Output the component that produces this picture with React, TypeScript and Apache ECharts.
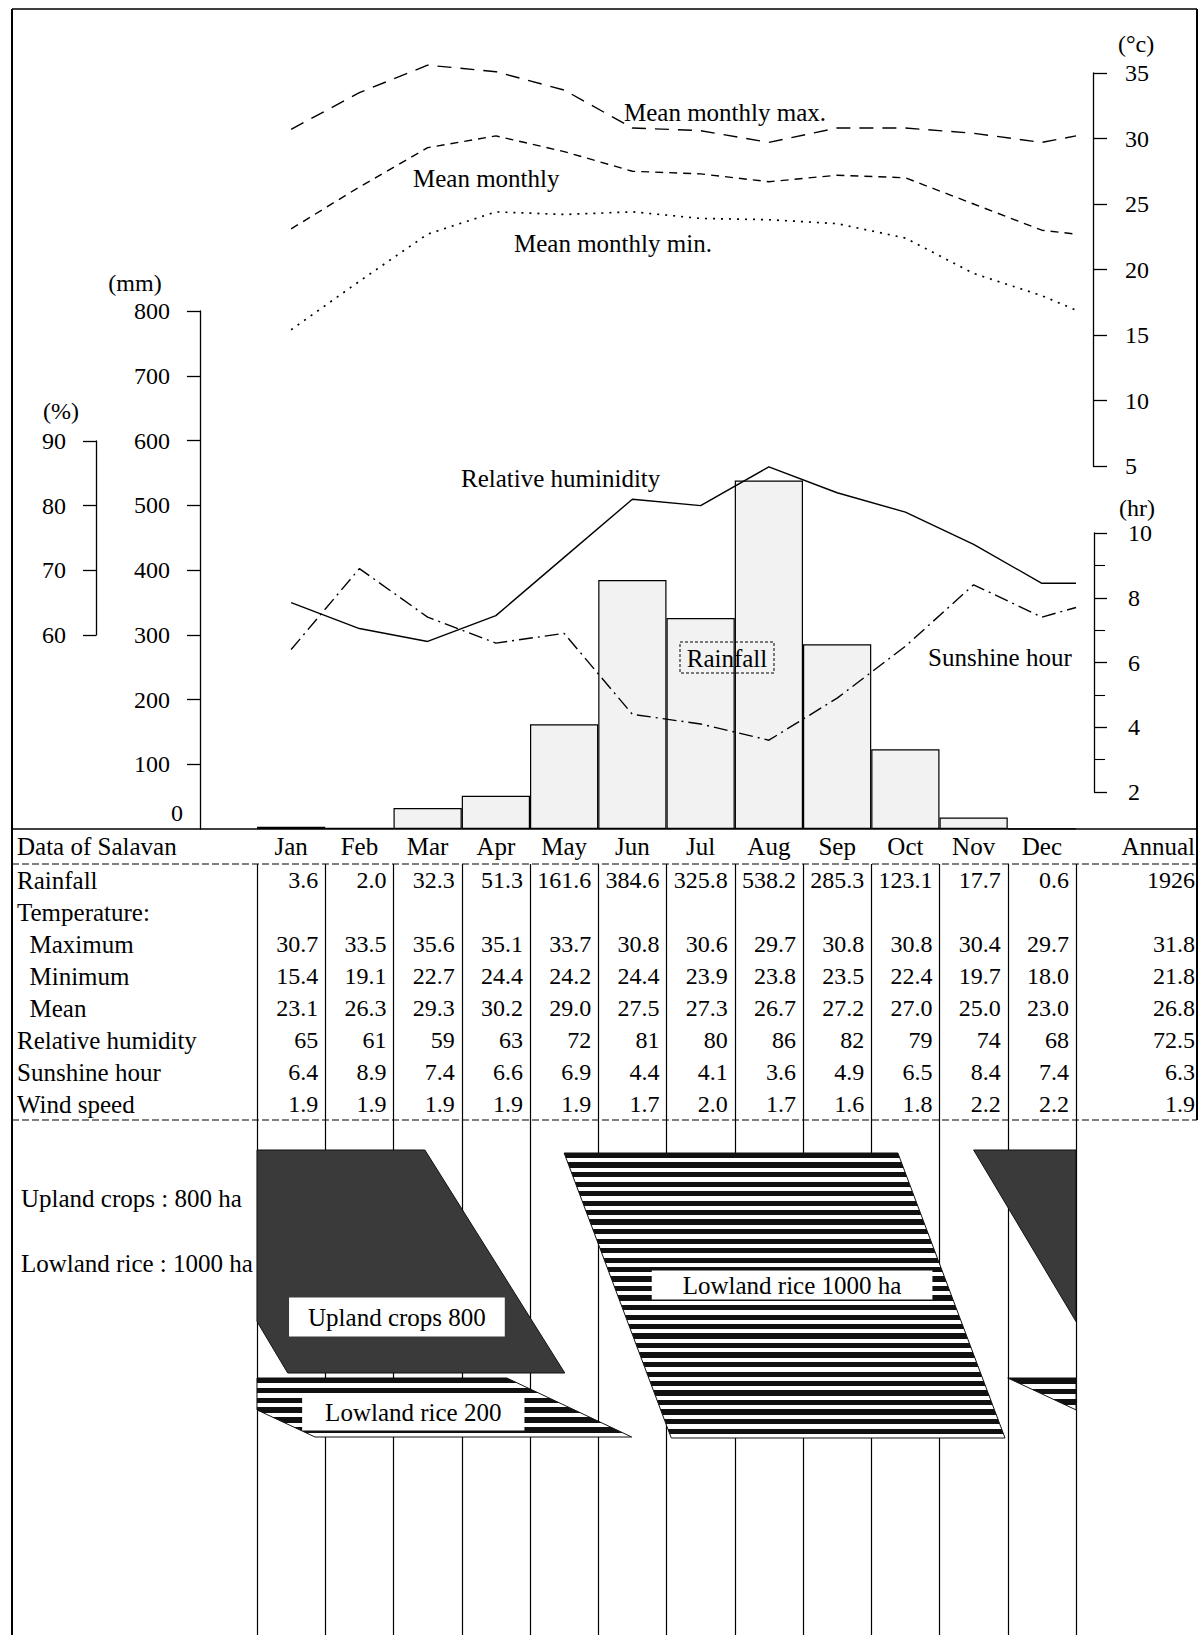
import React, { useEffect, useRef } from 'react';
import * as echarts from 'echarts';

// ---------------- DATA ----------------
const months = ['Jan', 'Feb', 'Mar', 'Apr', 'May', 'Jun', 'Jul', 'Aug', 'Sep', 'Oct', 'Nov', 'Dec'];
const rainfall = [3.6, 2.0, 32.3, 51.3, 161.6, 384.6, 325.8, 538.2, 285.3, 123.1, 17.7, 0.6];
const tempMax = [30.7, 33.5, 35.6, 35.1, 33.7, 30.8, 30.6, 29.7, 30.8, 30.8, 30.4, 29.7];
const tempMin = [15.4, 19.1, 22.7, 24.4, 24.2, 24.4, 23.9, 23.8, 23.5, 22.4, 19.7, 18.0];
const tempMean = [23.1, 26.3, 29.3, 30.2, 29.0, 27.5, 27.3, 26.7, 27.2, 27.0, 25.0, 23.0];
const humidity = [65, 61, 59, 63, 72, 81, 80, 86, 82, 79, 74, 68];
const sunshine = [6.4, 8.9, 7.4, 6.6, 6.9, 4.4, 4.1, 3.6, 4.9, 6.5, 8.4, 7.4];
const windSpeed = [1.9, 1.9, 1.9, 1.9, 1.9, 1.7, 2.0, 1.7, 1.6, 1.8, 2.2, 2.2];
const edgeMax = 30.2;
const edgeMean = 22.7;
const edgeMin = 16.9;
const edgeHumidity = 68;
const edgeSunshine = 7.7;

const tableRowLabels = ['Rainfall', 'Temperature:', 'Maximum', 'Minimum', 'Mean', 'Relative humidity', 'Sunshine hour', 'Wind speed'];
const indentedRows = ['Maximum', 'Minimum', 'Mean'];
const tableDecimals = [1, 0, 1, 1, 1, 0, 1, 1];
const annualValues = [1926, null, 31.8, 21.8, 26.8, 72.5, 6.3, 1.9];

// crop calendar (months from 1 Jan; negative = previous year)
const cropNames = ['Upland crops 800', 'Lowland rice 200', 'Lowland rice 1000 ha'];
const cropTopStart = [-1.5, -1.0, 4.5];
const cropTopEnd = [2.46, 3.66, 9.39];
const cropBottomStart = [0.45, 0.85, 6.07];
const cropBottomEnd = [4.51, 5.49, 10.96];
const cropLegend = ['Upland crops : 800 ha', 'Lowland rice : 1000 ha'];

// ---------------- LAYOUT ----------------
const FONT = "'Liberation Serif', 'Times New Roman', serif";
const FS = 24;
const FT = 25;
const PL = 257; // plot left
const PW = 819; // plot width (12 months)
const LINE_TOP = 40;
const AXIS_BOTTOM = 829;
const MM_TOP = 311;
const RH_PX = { low: 635, high: 441, vLow: 60, vHigh: 90 };
const T_PX = { low: 466, high: 73, vLow: 5, vHigh: 35 };
const HR_PX = { low: 792, high: 533, vLow: 2, vHigh: 10 };
const TABLE_TOP = 864;
const TABLE_BOTTOM = 1120;
const CROP_BOTTOM = 1635;
const cropYTop = [30, 258, 33];
const cropYBottom = [253, 317, 318];
const cropKind = ['upland', 'lowland', 'lowland'];
const cropLabelX = [2.05, 2.29, 7.84];
const cropLabelY = [197, 292, 165];
const cropLabelPad = [[7, 19], [6, 23], [2, 31]];

function hiddenRange(a: any) {
  const s = (a.vHigh - a.vLow) / (a.low - a.high);
  return { min: a.vLow - (AXIS_BOTTOM - a.low) * s, max: a.vHigh + (a.high - LINE_TOP) * s };
}

function clipPolyX(pts: number[][], xmin: number, xmax: number) {
  const clipEdge = (poly: number[][], inside: (p: number[]) => boolean, x: number) => {
    const out: number[][] = [];
    for (let i = 0; i < poly.length; i++) {
      const cur = poly[i];
      const prev = poly[(i + poly.length - 1) % poly.length];
      const inter = () => {
        const t = (x - prev[0]) / (cur[0] - prev[0]);
        return [x, prev[1] + t * (cur[1] - prev[1])];
      };
      const ci = inside(cur), pi = inside(prev);
      if (ci) {
        if (!pi) out.push(inter());
        out.push(cur);
      } else if (pi) out.push(inter());
    }
    return out;
  };
  let r = clipEdge(pts, (p) => p[0] >= xmin, xmin);
  if (r.length) r = clipEdge(r, (p) => p[0] <= xmax, xmax);
  return r;
}

function stripeFill(h: number) {
  const n = Math.max(1, Math.round(h / 9.5));
  const stops: any[] = [];
  for (let k = 0; k < n; k++) {
    const a = k / n, b = (k + 0.55) / n, c = (k + 1) / n;
    stops.push({ offset: a, color: '#111' }, { offset: b, color: '#111' }, { offset: b, color: '#fff' }, { offset: c, color: '#fff' });
  }
  return new echarts.graphic.LinearGradient(0, 0, 0, 1, stops);
}

const lineData = (v: number[], edge: number) => v.map((y, i) => [i + 0.5, y]).concat([[12, edge]]);

function txt(text: string, x: number, y: number, align = 'left', size = FT) {
  return {
    type: 'text', x, y, z: 100,
    style: { text, font: `${size}px ${FONT}`, fill: '#000', textAlign: align, textVerticalAlign: 'middle', align, verticalAlign: 'middle' },
  };
}
function ln(x1: number, y1: number, x2: number, y2: number, w = 1.2, dash?: number[]) {
  return { type: 'line', z: 90, shape: { x1, y1, x2, y2 }, style: { stroke: '#000', lineWidth: w, lineDash: dash } };
}

export default function App() {
  const ref = useRef<HTMLDivElement>(null);
  useEffect(() => {
    document.body.style.margin = '0';
    const chart = echarts.init(ref.current!, undefined, { renderer: 'svg' });

    const cells: any[] = [];
    const rows = [rainfall, null, tempMax, tempMin, tempMean, humidity, sunshine, windSpeed];
    rows.forEach((r, ri) => {
      if (r) r.forEach((v, ci) => cells.push({ col: ci, row: ri, text: v.toFixed(tableDecimals[ri]) }));
      const a = annualValues[ri];
      if (a !== null) cells.push({ col: 12, row: ri, text: String(a), annual: true });
    });

    const tr = hiddenRange(T_PX), rr = hiddenRange(RH_PX), hr = hiddenRange(HR_PX);
    const axisStyle = { lineStyle: { color: '#000', width: 1.3 } };
    const labelStyle = { color: '#000', fontSize: FS, fontFamily: FONT };
    const visLine = { show: true, onZero: false, ...axisStyle };

    const option: any = {
      animation: false,
      backgroundColor: '#fff',
      grid: [
        { left: PL, width: PW, top: MM_TOP, height: AXIS_BOTTOM - MM_TOP },
        { left: PL, width: PW, top: LINE_TOP, height: AXIS_BOTTOM - LINE_TOP },
        { left: PL, width: PW, top: RH_PX.high, height: RH_PX.low - RH_PX.high },
        { left: PL, width: PW, top: T_PX.high, height: T_PX.low - T_PX.high },
        { left: PL, width: PW, top: HR_PX.high, height: HR_PX.low - HR_PX.high },
        { left: PL, width: PW, top: TABLE_TOP, height: TABLE_BOTTOM - TABLE_TOP },
        { left: PL, width: PW, top: TABLE_BOTTOM, height: CROP_BOTTOM - TABLE_BOTTOM },
      ],
      xAxis: [
        {
          type: 'category', gridIndex: 0, data: months, boundaryGap: true,
          axisLine: { show: false }, axisTick: { show: false },
          axisLabel: { ...labelStyle, fontSize: FT, margin: 5, interval: 0 },
        },
        { type: 'value', gridIndex: 1, min: 0, max: 12, show: false },
        { type: 'value', gridIndex: 2, min: 0, max: 1, show: false },
        { type: 'value', gridIndex: 3, min: 0, max: 1, show: false },
        { type: 'value', gridIndex: 4, min: 0, max: 1, show: false },
        {
          type: 'value', gridIndex: 5, min: 0, max: 12, interval: 1,
          axisLine: { show: false }, axisTick: { show: false }, axisLabel: { show: false },
          splitLine: { show: true, lineStyle: { color: '#000', width: 1.2 } },
        },
        {
          type: 'value', gridIndex: 6, min: 0, max: 12, interval: 1,
          axisLine: { show: false }, axisTick: { show: false }, axisLabel: { show: false },
          splitLine: { show: true, lineStyle: { color: '#000', width: 1.2 } },
        },
      ],
      yAxis: [
        {
          type: 'value', gridIndex: 0, min: 0, max: 800, interval: 100, position: 'left', offset: PL - 200,
          axisLine: visLine, axisTick: { show: true, length: 13, ...axisStyle },
          axisLabel: { ...labelStyle, margin: 30, showMinLabel: false }, splitLine: { show: false },
        },
        { type: 'value', gridIndex: 1, min: tr.min, max: tr.max, show: false, splitLine: { show: false } },
        { type: 'value', gridIndex: 1, min: rr.min, max: rr.max, show: false, splitLine: { show: false } },
        { type: 'value', gridIndex: 1, min: hr.min, max: hr.max, show: false, splitLine: { show: false } },
        {
          type: 'value', gridIndex: 2, min: 60, max: 90, interval: 10, position: 'left', offset: PL - 96,
          axisLine: visLine, axisTick: { show: true, length: 13, ...axisStyle },
          axisLabel: { ...labelStyle, margin: 30 }, splitLine: { show: false },
        },
        {
          type: 'value', gridIndex: 3, min: 5, max: 35, interval: 5, position: 'right', offset: 1093 - (PL + PW),
          axisLine: visLine, axisTick: { show: true, length: 14, ...axisStyle },
          axisLabel: { ...labelStyle, margin: 32 }, splitLine: { show: false },
        },
        {
          type: 'value', gridIndex: 4, min: 2, max: 10, interval: 2, position: 'right', offset: 1094 - (PL + PW),
          axisLine: visLine, axisTick: { show: true, length: 13, ...axisStyle },
          minorTick: { show: true, splitNumber: 2, length: 11, lineStyle: { color: '#000', width: 1.1 } },
          axisLabel: { ...labelStyle, margin: 34 }, splitLine: { show: false },
        },
        {
          type: 'category', gridIndex: 5, inverse: true, boundaryGap: true,
          data: tableRowLabels.map((l) => (indentedRows.includes(l) ? '\u00a0\u00a0' + l : l)),
          axisLine: { show: false }, axisTick: { show: false },
          axisLabel: { ...labelStyle, fontSize: FT, margin: PL - 17, align: 'left', interval: 0 },
        },
        { type: 'value', gridIndex: 6, min: 0, max: CROP_BOTTOM - TABLE_BOTTOM, inverse: true, show: false },
      ],
      series: [
        {
          type: 'bar', xAxisIndex: 0, yAxisIndex: 0, data: rainfall, barCategoryGap: '0%',
          itemStyle: { color: '#f2f2f2', borderColor: '#000', borderWidth: 1.2 },
        },
        {
          type: 'line', name: 'Mean monthly max.', xAxisIndex: 1, yAxisIndex: 1, data: lineData(tempMax, edgeMax), symbol: 'none',
          lineStyle: { color: '#000', width: 1.4, type: [14, 9] }, z: 5,
        },
        {
          type: 'line', name: 'Mean monthly', xAxisIndex: 1, yAxisIndex: 1, data: lineData(tempMean, edgeMean), symbol: 'none',
          lineStyle: { color: '#000', width: 1.4, type: [8, 6] }, z: 5,
        },
        {
          type: 'line', name: 'Mean monthly min.', xAxisIndex: 1, yAxisIndex: 1, data: lineData(tempMin, edgeMin), symbol: 'none',
          lineStyle: { color: '#000', width: 1.7, type: [2, 6] }, z: 5,
        },
        {
          type: 'line', name: 'Relative humidity', xAxisIndex: 1, yAxisIndex: 2, data: lineData(humidity, edgeHumidity), symbol: 'none',
          lineStyle: { color: '#000', width: 1.4, type: 'solid' }, z: 5,
        },
        {
          type: 'line', name: 'Sunshine hour', xAxisIndex: 1, yAxisIndex: 3, data: lineData(sunshine, edgeSunshine), symbol: 'none',
          lineStyle: { color: '#000', width: 1.4, type: [14, 5, 2, 5] }, z: 5,
        },
        {
          type: 'custom', xAxisIndex: 5, yAxisIndex: 7, data: cells.map((c) => [c.col, c.row]), z: 10,
          renderItem: (params: any, api: any) => {
            const c = cells[params.dataIndex];
            const p = api.coord([c.annual ? 12 : c.col + 1, c.row]);
            const x = c.annual ? p[0] + 119 : p[0] - 7;
            return {
              type: 'text', x, y: p[1],
              style: { text: c.text, font: `${FS}px ${FONT}`, fill: '#000', textAlign: 'right', textVerticalAlign: 'middle', align: 'right', verticalAlign: 'middle' },
            };
          },
        },
        {
          type: 'custom', xAxisIndex: 6, yAxisIndex: 8, data: cropNames.map((_, i) => [6, i]), z: 10,
          renderItem: (params: any, api: any) => {
            const i = params.dataIndex;
            const children: any[] = [];
            [0, 12].forEach((shift) => {
              const poly = [
                [cropTopStart[i] + shift, cropYTop[i]],
                [cropTopEnd[i] + shift, cropYTop[i]],
                [cropBottomEnd[i] + shift, cropYBottom[i]],
                [cropBottomStart[i] + shift, cropYBottom[i]],
              ];
              const clipped = clipPolyX(poly, 0, 12);
              if (clipped.length < 3) return;
              const pts = clipped.map((q) => api.coord(q));
              const ys = pts.map((q: number[]) => q[1]);
              const h = Math.max(...ys) - Math.min(...ys);
              children.push({
                type: 'polygon', shape: { points: pts },
                style: {
                  fill: cropKind[i] === 'upland' ? '#3a3a3a' : stripeFill(h),
                  stroke: '#111', lineWidth: 1,
                },
              });
            });
            const c = api.coord([cropLabelX[i], cropLabelY[i]]);
            children.push({
              type: 'text', x: c[0], y: c[1], z2: 10,
              style: {
                text: cropNames[i], font: `${FT}px ${FONT}`, fill: '#000',
                textAlign: 'center', textVerticalAlign: 'middle', align: 'center', verticalAlign: 'middle',
                backgroundColor: '#fff', padding: cropLabelPad[i],
              },
            });
            return { type: 'group', children };
          },
        },
      ],
      graphic: [
        // frame
        ln(12, 9, 1197, 9, 1.5),
        ln(12, 9, 12, 1635, 2),
        ln(1197, 9, 1197, TABLE_BOTTOM, 2),
        // table horizontals
        ln(12, AXIS_BOTTOM, 1197, AXIS_BOTTOM, 1.6),
        ln(12, TABLE_TOP, 1197, TABLE_TOP, 1, [7, 3]),
        ln(12, TABLE_BOTTOM, 1197, TABLE_BOTTOM, 1.2, [7, 3]),
        // table header
        txt('Data of Salavan', 17, 846),
        txt('Annual', 1195, 846, 'right'),
        // axis titles
        txt('(mm)', 135, 283, 'center', FS),
        txt('(%)', 61, 411, 'center', FS),
        txt('(°c)', 1136, 44, 'center', FS),
        txt('(hr)', 1137, 508, 'center', FS),
        txt('0', 183, 813, 'right', FS),
        // series labels
        txt('Mean monthly max.', 624, 112),
        txt('Mean monthly', 413, 178),
        txt('Mean monthly min.', 514, 243),
        txt('Relative huminidity', 461, 478),
        txt('Sunshine hour', 928, 657),
        {
          type: 'rect', z: 95, shape: { x: 680, y: 642, width: 94, height: 31 },
          style: { fill: 'rgba(0,0,0,0)', stroke: '#000', lineWidth: 1, lineDash: [3, 2] },
        },
        txt('Rainfall', 727, 658, 'center'),
        // crop calendar legend
        txt(cropLegend[0], 21, 1198),
        txt(cropLegend[1], 21, 1263),
      ],
    };
    chart.setOption(option);
    return () => chart.dispose();
  }, []);
  return <div ref={ref} style={{ width: 1200, height: 1635 }} />;
}
